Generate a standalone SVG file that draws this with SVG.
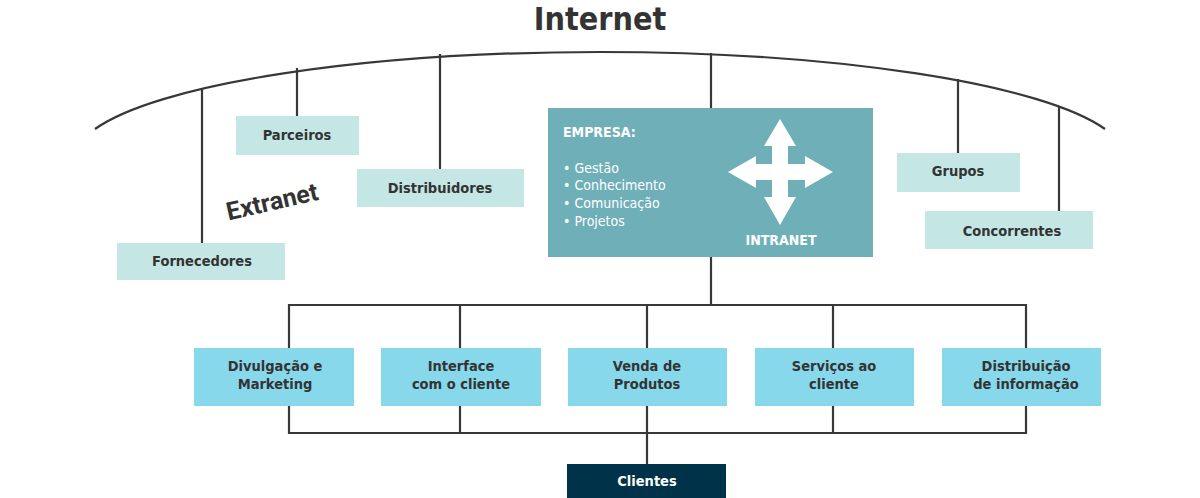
<svg xmlns="http://www.w3.org/2000/svg" width="1200" height="498" viewBox="0 0 1200 498">
<style>
.ln{fill:none;stroke:#383838;stroke-width:2.2}
.lt{fill:#c4e7e6}
.bl{fill:#88d8eb}
.lb{font-family:"DejaVu Sans Condensed","DejaVu Sans",sans-serif;font-weight:bold;font-size:14.5px;fill:#333;text-anchor:middle}
.wt{font-family:"DejaVu Sans Condensed","DejaVu Sans",sans-serif;font-size:14px;fill:#fff}
</style>
<rect width="1200" height="498" fill="#fff"/>
<text x="600" y="30" font-family="'DejaVu Sans Condensed','DejaVu Sans',sans-serif" font-weight="bold" font-size="32" fill="#333" text-anchor="middle">Internet</text>
<g id="connectors">
<path class="ln" d="M95,129 A525,106 0 0 1 1105,129"/>
<path class="ln" d="M202,88 V243 M297,68 V116 M440,54 V169 M711,53 V108 M958,79 V153 M1059,107 V211"/>
<path class="ln" d="M711,257 V305 M289,348 V305 H1026 V348 M460,305 V348 M647,305 V348 M833,305 V348"/>
<path class="ln" d="M289,406 V433 H1026 V406 M460,406 V433 M647,406 V464 M833,406 V433"/>
</g>
<g id="parceiros"><rect class="lt" x="236" y="116" width="123" height="39"/><text class="lb" x="297" y="140">Parceiros</text></g>
<g id="distribuidores"><rect class="lt" x="357" y="169" width="167" height="38"/><text class="lb" x="440" y="193">Distribuidores</text></g>
<g id="fornecedores"><rect class="lt" x="117" y="243" width="168" height="37"/><text class="lb" x="202" y="266">Fornecedores</text></g>
<g id="grupos"><rect class="lt" x="897" y="153" width="123" height="39"/><text class="lb" x="958" y="176">Grupos</text></g>
<g id="concorrentes"><rect class="lt" x="925" y="211" width="168" height="38"/><text class="lb" x="1012" y="236">Concorrentes</text></g>
<text id="extranet" x="0" y="0" font-family="Roboto,sans-serif" font-weight="bold" font-size="25" fill="#333" text-anchor="middle" transform="translate(274,210) rotate(-13)">Extranet</text>
<g id="empresa">
<rect x="548" y="108" width="325" height="149" fill="#6fafb8"/>
<text class="wt" x="563" y="137" font-weight="bold">EMPRESA:</text>
<text class="wt" x="563" y="173">• Gestão</text>
<text class="wt" x="563" y="190">• Conhecimento</text>
<text class="wt" x="563" y="208">• Comunicação</text>
<text class="wt" x="563" y="226">• Projetos</text>
<polygon fill="#fff" points="780,119 796,146 788,146 788,164 805,164 805,156 833,172 805,188 805,180 788,180 788,197 796,197 780,225 764,197 772,197 772,180 756,180 756,188 728,172 756,156 756,164 772,164 772,146 764,146"/>
<text class="wt" x="781" y="245" font-weight="bold" text-anchor="middle">INTRANET</text>
</g>
<g id="divulgacao"><rect class="bl" x="194" y="348" width="160" height="58"/><text class="lb" x="275" y="371">Divulgação e</text><text class="lb" x="275" y="389">Marketing</text></g>
<g id="interface"><rect class="bl" x="381" y="348" width="160" height="58"/><text class="lb" x="461" y="371">Interface</text><text class="lb" x="461" y="389">com o cliente</text></g>
<g id="venda"><rect class="bl" x="568" y="348" width="159" height="58"/><text class="lb" x="647" y="371">Venda de</text><text class="lb" x="647" y="389">Produtos</text></g>
<g id="servicos"><rect class="bl" x="755" y="348" width="159" height="58"/><text class="lb" x="834" y="371">Serviços ao</text><text class="lb" x="834" y="389">cliente</text></g>
<g id="distribuicao"><rect class="bl" x="942" y="348" width="159" height="58"/><text class="lb" x="1026" y="371">Distribuição</text><text class="lb" x="1026" y="389">de informação</text></g>
<g id="clientes"><rect x="567" y="464" width="159" height="34" fill="#003249"/><text class="lb" x="647" y="486" style="fill:#fff">Clientes</text></g>
</svg>
